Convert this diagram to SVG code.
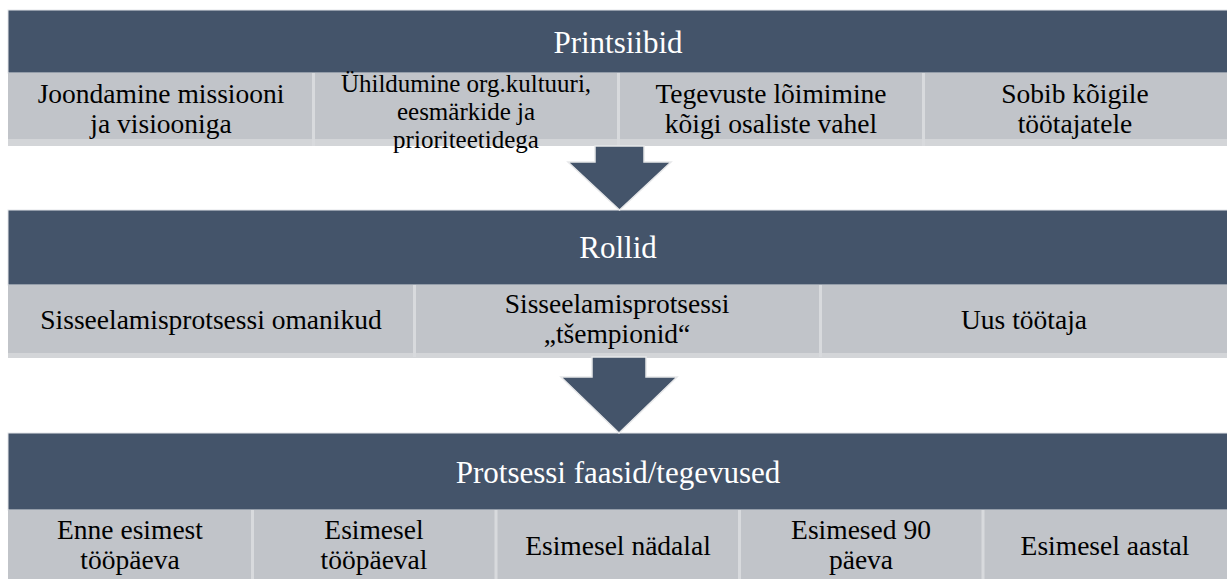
<svg xmlns="http://www.w3.org/2000/svg" width="1227" height="579" viewBox="0 0 1227 579">
<defs>
<style>
.band{fill:#44546A;stroke:#E4E6E9;stroke-width:1}
.cell{fill:#C1C4C9}
.strip{fill:#D3D5D8}
.div{stroke:#D8DADD;stroke-width:3}
.title{font-family:"Liberation Serif",serif;font-size:31px;fill:#FFFFFF;text-anchor:middle}
.lbl{font-family:"Liberation Serif",serif;font-size:27.5px;fill:#000000;text-anchor:middle}
.lbls{font-family:"Liberation Serif",serif;font-size:25px;fill:#000000;text-anchor:middle}
.arrow{fill:#44546A;stroke:#E6E7E9;stroke-width:1.5;stroke-linejoin:miter}
</style>
</defs>
<rect width="1227" height="579" fill="#FFFFFF"/>
<g id="printsiibid">
  <rect class="band" x="8" y="10" width="1220" height="63"/>
  <text class="title" x="618" y="53">Printsiibid</text>
</g>
<g id="printsiibid-cells">
  <rect class="cell" x="8" y="73" width="1219" height="73"/>
  <rect class="strip" x="8" y="139" width="1219" height="7"/>
  <line class="div" x1="313.5" y1="73" x2="313.5" y2="146"/>
  <line class="div" x1="618.5" y1="73" x2="618.5" y2="146"/>
  <line class="div" x1="923.5" y1="73" x2="923.5" y2="146"/>
</g>
<g id="p-cell1"><text class="lbl" x="161" y="103">Joondamine missiooni</text><text class="lbl" x="161" y="133">ja visiooniga</text></g>
<g id="p-cell2"><text class="lbls" x="466" y="92">Ühildumine org.kultuuri,</text><text class="lbls" x="466" y="120">eesmärkide ja</text><text class="lbls" x="466" y="148">prioriteetidega</text></g>
<g id="p-cell3"><text class="lbl" x="771" y="103">Tegevuste lõimimine</text><text class="lbl" x="771" y="133">kõigi osaliste vahel</text></g>
<g id="p-cell4"><text class="lbl" x="1075" y="103">Sobib kõigile</text><text class="lbl" x="1075" y="133">töötajatele</text></g>

<g id="rollid">
  <rect class="band" x="8" y="210" width="1220" height="75"/>
  <text class="title" x="618" y="258">Rollid</text>
</g>
<g id="rollid-cells">
  <rect class="cell" x="8" y="285" width="1219" height="72"/>
  <rect class="strip" x="8" y="353" width="1219" height="5"/>
  <line class="div" x1="414.5" y1="285" x2="414.5" y2="357"/>
  <line class="div" x1="820.5" y1="285" x2="820.5" y2="357"/>
</g>
<g id="r-cell1"><text class="lbl" x="211" y="329">Sisseelamisprotsessi omanikud</text></g>
<g id="r-cell2"><text class="lbl" x="617" y="313">Sisseelamisprotsessi</text><text class="lbl" x="617" y="343">„tšempionid“</text></g>
<g id="r-cell3"><text class="lbl" x="1024" y="329">Uus töötaja</text></g>

<g id="protsessi">
  <rect class="band" x="8" y="433" width="1220" height="77"/>
  <text class="title" x="618" y="483">Protsessi faasid/tegevused</text>
</g>
<g id="protsessi-cells">
  <rect class="cell" x="8" y="510" width="1219" height="69"/>
  <line class="div" x1="252.5" y1="510" x2="252.5" y2="579"/>
  <line class="div" x1="496" y1="510" x2="496" y2="579"/>
  <line class="div" x1="739.5" y1="510" x2="739.5" y2="579"/>
  <line class="div" x1="983" y1="510" x2="983" y2="579"/>
</g>
<g id="f-cell1"><text class="lbl" x="130" y="539">Enne esimest</text><text class="lbl" x="130" y="569">tööpäeva</text></g>
<g id="f-cell2"><text class="lbl" x="374" y="539">Esimesel</text><text class="lbl" x="374" y="569">tööpäeval</text></g>
<g id="f-cell3"><text class="lbl" x="618" y="555">Esimesel nädalal</text></g>
<g id="f-cell4"><text class="lbl" x="861" y="539">Esimesed 90</text><text class="lbl" x="861" y="569">päeva</text></g>
<g id="f-cell5"><text class="lbl" x="1105" y="555">Esimesel aastal</text></g>
<g id="connectors">
  <polygon class="arrow" points="595,146 644,146 644,162 671,162 619.5,210 568,162 595,162"/>
  <polygon class="arrow" points="592,357 646,357 646,377 677,377 619,433 561,377 592,377"/>
</g>
</svg>
